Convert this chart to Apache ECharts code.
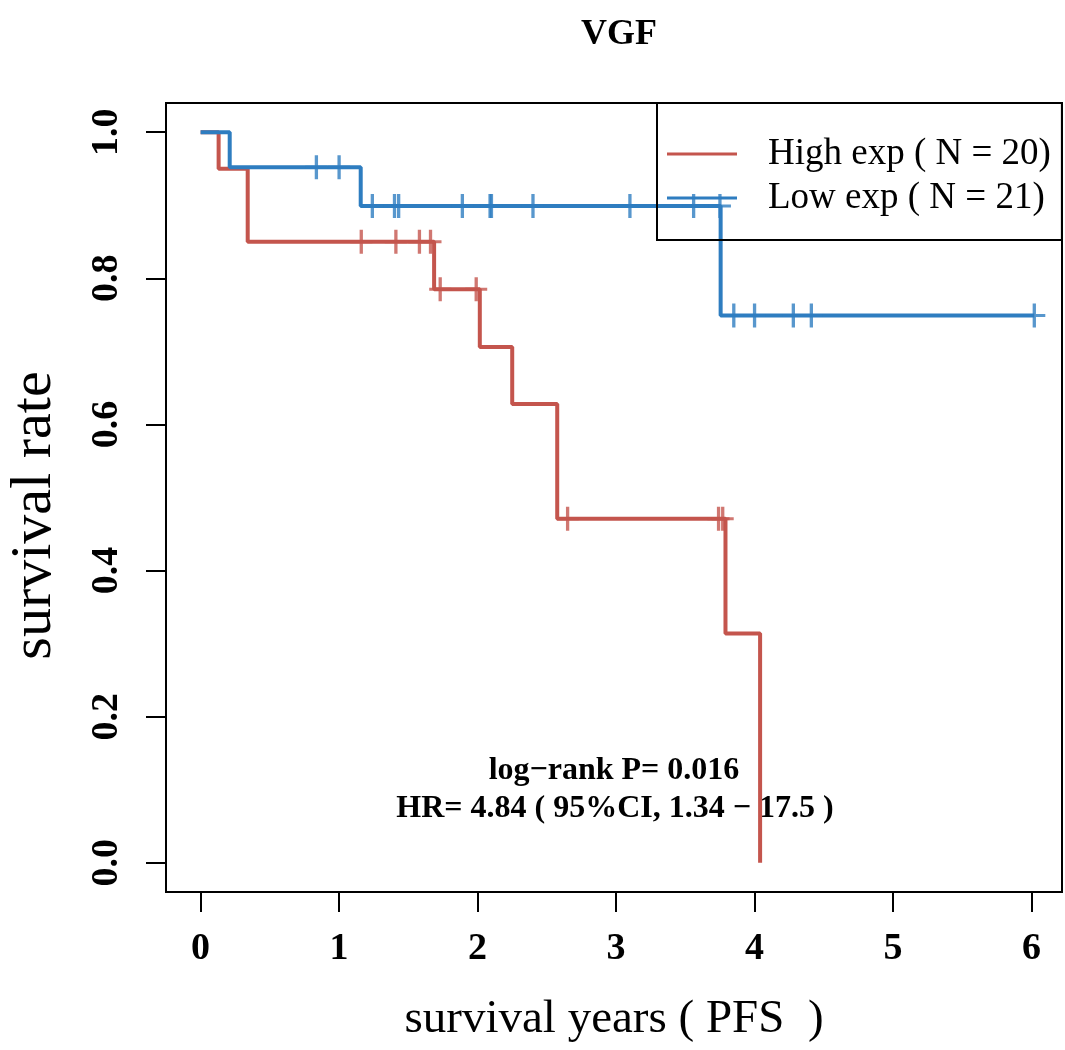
<!DOCTYPE html>
<html>
<head>
<meta charset="utf-8">
<script src="https://cdn.jsdelivr.net/npm/echarts@6/dist/echarts.min.js"></script>
<style>
  html, body { margin: 0; padding: 0; background: #fff; }
  #main { width: 1065px; height: 1050px; }
</style>
</head>
<body>
<div id="main"></div>
<script>
// KM 曲线数据
var highTimes = [0, 0.13, 0.34, 1.686, 2.016, 2.25, 2.575, 3.79, 4.04];
var highSurv  = [1, 0.95, 0.85, 0.785, 0.706, 0.628, 0.471, 0.314, 0];
var highCensor = [1.16, 1.41, 1.58, 1.66, 1.73, 1.99, 2.65, 3.74, 3.77];

var lowTimes = [0, 0.21, 1.156, 3.755, 6.02];
var lowSurv  = [1, 0.952, 0.899, 0.749, 0.749];
var lowCensor = [0.836, 1.00, 1.24, 1.40, 1.43, 1.89, 2.09, 2.10, 2.40, 3.10, 3.56, 3.75, 3.85, 4.00, 4.28, 4.41, 6.02];

var xTicks = [0, 1, 2, 3, 4, 5, 6];
var yTicks = [0, 0.2, 0.4, 0.6, 0.8, 1.0];

var highName = 'High exp ( N = 20)';
var lowName = 'Low exp ( N = 21)';
var redColor = '#C4554D';
var blueColor = '#2E7DC0';
var font = 'Liberation Serif';

// 把时间和生存率拼成折线点
function toSteps(times, surv) {
    var arr = [];
    for (var i = 0; i < times.length; i++) {
        arr.push([times[i], surv[i]]);
    }
    return arr;
}

// 删失点的纵坐标取当时的生存率
function toCensor(cens, times, surv) {
    var arr = [];
    for (var i = 0; i < cens.length; i++) {
        var s = surv[0];
        for (var j = 0; j < times.length; j++) {
            if (times[j] <= cens[i]) s = surv[j];
        }
        arr.push([cens[i], s]);
    }
    return arr;
}

// 十字形删失标记
var plusPath = 'path://M8.5,0h3v10.5h8.5v3h-8.5v10.5h-3v-10.5h-8.5v-3h8.5z';

var chart = echarts.init(document.getElementById('main'));
var option = {
    animation: false,
    backgroundColor: '#fff',
    title: {
        text: 'VGF',
        left: 614,
        top: 12,
        textAlign: 'center',
        textStyle: { fontFamily: font, fontWeight: 'bold', fontSize: 36, color: '#000' }
    },
    grid: {
        left: 166, right: 3, top: 103, bottom: 158,
        outerBoundsMode: 'none',
        show: true, borderColor: '#000', borderWidth: 2
    },
    legend: {
        orient: 'vertical',
        left: 657, top: 103,
        padding: [29, 11, 20, 10],
        itemGap: 0,
        itemWidth: 70, itemHeight: 3,
        borderColor: '#000', borderWidth: 2,
        textStyle: { fontFamily: font, fontSize: 37, color: '#000', lineHeight: 44, padding: [0, 0, 0, 26] },
        data: [
            { name: highName, icon: 'rect' },
            { name: lowName, icon: 'rect' }
        ]
    },
    xAxis: {
        type: 'value',
        min: -0.25, max: 6.22,
        name: 'survival years ( PFS  )',
        nameLocation: 'middle',
        nameGap: 104,
        nameTextStyle: { fontFamily: font, fontSize: 47, color: '#000' },
        axisLine: { show: true, onZero: false, lineStyle: { color: '#000', width: 2 } },
        axisTick: { show: true, length: 20, customValues: xTicks, lineStyle: { color: '#000', width: 2 } },
        axisLabel: {
            customValues: xTicks, margin: 38,
            fontFamily: font, fontWeight: 'bold', fontSize: 38, color: '#000'
        },
        splitLine: { show: false }
    },
    yAxis: {
        type: 'value',
        min: -0.04, max: 1.04,
        name: 'survival rate',
        nameLocation: 'middle',
        nameGap: 102,
        nameTextStyle: { fontFamily: font, fontSize: 58, color: '#000', padding: [0, 36, 0, 0] },
        axisLine: { show: true, onZero: false, lineStyle: { color: '#000', width: 2 } },
        axisTick: { show: true, length: 20, customValues: yTicks, lineStyle: { color: '#000', width: 2 } },
        axisLabel: {
            customValues: yTicks, rotate: 90, margin: 40,
            fontFamily: font, fontWeight: 'bold', fontSize: 38, color: '#000',
            formatter: function (v) { return v.toFixed(1); }
        },
        splitLine: { show: false }
    },
    graphic: [
        {
            type: 'text', x: 614, y: 771,
            style: {
                text: 'log\u2212rank P= 0.016', fontFamily: font, fontWeight: 'bold',
                fontSize: 32, fill: '#000', align: 'center', verticalAlign: 'middle'
            }
        },
        {
            type: 'text', x: 615, y: 809,
            style: {
                text: 'HR= 4.84 ( 95%CI, 1.34 \u2212 17.5 )', fontFamily: font, fontWeight: 'bold',
                fontSize: 32, fill: '#000', align: 'center', verticalAlign: 'middle'
            }
        }
    ],
    series: [
        {
            name: highName, type: 'line', step: 'end', symbol: 'none',
            color: redColor,
            lineStyle: { color: redColor, width: 4 },
            data: toSteps(highTimes, highSurv), z: 2
        },
        {
            name: lowName, type: 'line', step: 'end', symbol: 'none',
            color: blueColor,
            lineStyle: { color: blueColor, width: 4 },
            data: toSteps(lowTimes, lowSurv), z: 3
        },
        {
            name: 'highCensor', type: 'scatter', symbol: plusPath, symbolSize: [22, 24],
            itemStyle: { color: redColor },
            data: toCensor(highCensor, highTimes, highSurv), z: 4
        },
        {
            name: 'lowCensor', type: 'scatter', symbol: plusPath, symbolSize: [22, 24],
            itemStyle: { color: blueColor },
            data: toCensor(lowCensor, lowTimes, lowSurv), z: 5
        }
    ]
};
chart.setOption(option);
</script>
</body>
</html>
